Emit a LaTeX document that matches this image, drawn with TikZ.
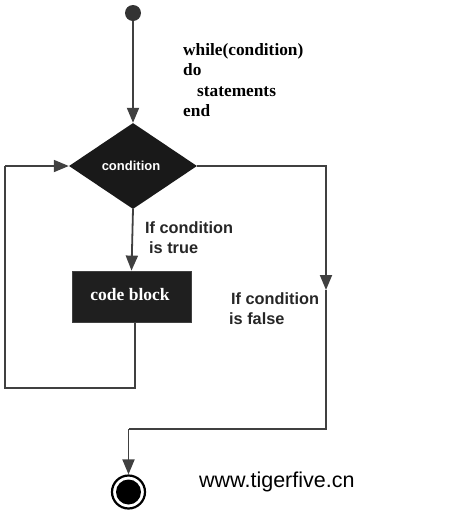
\documentclass[tikz,border=0pt]{standalone}
\usepackage{fontspec}
\setmainfont{Liberation Serif}
\newfontfamily\labsans{Liberation Sans}
\newfontfamily\codeserif{Liberation Serif}
\usetikzlibrary{arrows.meta,shapes.geometric}
\definecolor{lineg}{HTML}{404040}
\begin{document}
\begin{tikzpicture}[x=1pt,y=-1pt,
  conn/.style={draw=lineg,line width=1.8pt},
  tip/.style={-{Triangle[length=15pt,width=12pt]}},
  codetxt/.style={anchor=base west,inner sep=0pt,font=\codeserif\bfseries\fontsize{17.3}{20}\selectfont},
  labtxt/.style={anchor=base west,inner sep=0pt,font=\labsans\bfseries\fontsize{16.3}{20}\selectfont,text=black!85},
  decision/.style={diamond,fill=black!90,draw=none,minimum width=128pt,minimum height=86pt,inner sep=0pt,aspect=1.49},
  blockbox/.style={rectangle,fill=black!88,draw=lineg,line width=0.8pt,minimum width=119pt,minimum height=51pt,inner sep=0pt}]
\useasboundingbox (0,0) rectangle (452,515);
% start
\node[circle,fill=black!80,minimum size=16pt,inner sep=0pt] (start) at (133,13) {};
% decision
\node[decision] (cond) at (133,166) {};
\node[font=\labsans\bfseries\fontsize{13}{15}\selectfont,text=white,anchor=base,inner sep=0pt] (condtxt) at (131,170) {condition};
% code block
\node[blockbox] (blk) at (131.5,296.5) {};
\node[font=\codeserif\bfseries\fontsize{17.5}{20}\selectfont,text=white,anchor=base,inner sep=0pt] (blktxt) at (130,300) {code block};
% end
\node[circle,draw=black,line width=2.2pt,fill=white,minimum size=33pt,inner sep=0pt] (end) at (128.5,492) {};
\node[circle,fill=black,minimum size=25pt,inner sep=0pt] (endin) at (128.5,492) {};
% coordinates
\coordinate (l1) at (5,166);
\coordinate (l2) at (5,388);
\coordinate (l3) at (135,388);
\coordinate (r1) at (326,166);
\coordinate (rm) at (326,290);
\coordinate (r2) at (326,429);
\coordinate (r3) at (128.5,429);
% connectors
\draw[conn,tip] (start) -- (cond.north);
\draw[conn,tip] (cond.south) -- (blk.north);
\draw[conn] (blk.south -| l3) -- (l3) -- (l2) -- (l1);
\draw[conn,tip] (l1) -- (cond.west);
\draw[conn,tip] (cond.east) -- (r1) -- (rm);
\draw[conn] (rm) -- (r2) -- (r3);
\draw[conn,tip] (r3) -- (end.north);
% texts
\node[codetxt] (c1) at (183,55) {while(condition)};
\node[codetxt] (c2) at (183,75) {do};
\node[codetxt] (c3) at (197,96) {statements};
\node[codetxt] (c4) at (183,116) {end};
\node[labtxt] (t1) at (145,233) {If condition};
\node[labtxt] (t2) at (149,253) {is true};
\node[labtxt] (f1) at (231,304) {If condition};
\node[labtxt] (f2) at (229,324) {is false};
\node[anchor=base west,inner sep=0pt,font=\labsans\fontsize{21.5}{24}\selectfont] (wm) at (199,487) {www.tigerfive.cn};
\end{tikzpicture}
\end{document}
